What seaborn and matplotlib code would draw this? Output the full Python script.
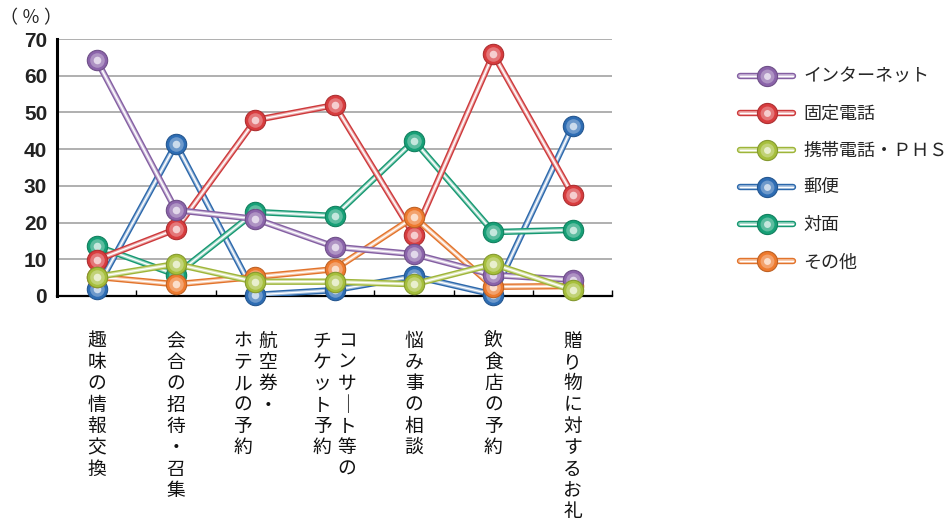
import numpy as np
import pandas as pd
import matplotlib
matplotlib.use("Agg")
import matplotlib.pyplot as plt
from matplotlib.lines import Line2D
from matplotlib.legend_handler import HandlerTuple
from matplotlib.colors import to_rgb
import seaborn as sns

# ---- data -----------------------------------------------------------------
categories = [
    "趣味の情報交換",
    "会合の招待・召集",
    "航空券・\nホテルの予約",
    "コンサート等の\nチケット予約",
    "悩み事の相談",
    "飲食店の予約",
    "贈り物に対するお礼",
]
series_names = ["インターネット", "固定電話", "携帯電話・ＰＨＳ", "郵便", "対面", "その他"]
internet = [64.3, 23.4, 21.0, 13.4, 11.4, 5.7, 4.4]
landline = [9.8, 18.2, 47.9, 52.0, 16.6, 65.9, 27.5]
mobile_phs = [5.2, 8.7, 3.9, 3.9, 3.2, 8.7, 1.6]
post = [1.9, 41.4, 0.3, 1.6, 5.4, 0.4, 46.3]
face_to_face = [13.6, 5.8, 22.9, 21.8, 42.3, 17.4, 18.0]
other = [5.2, 3.2, 5.2, 7.3, 21.5, 2.5, 2.7]
y_ticks = [0, 10, 20, 30, 40, 50, 60, 70]

values = [internet, landline, mobile_phs, post, face_to_face, other]
colors = ["#8b64aa", "#d83c3e", "#a6bf3c", "#2e6db4", "#17a077", "#ee7a2e"]
draw_order = [3, 4, 1, 5, 0, 2]  # stacking of the series, bottom to top

rows = []
for name, vals in zip(series_names, values):
    for i, v in enumerate(vals):
        rows.append({"series": name, "pos": i, "value": v})
df = pd.DataFrame(rows)

JP = "Noto Sans CJK JP"


def tint(c, f):
    r = np.array(to_rgb(c))
    return tuple(r + (1 - r) * f)


def shade(c, f):
    r = np.array(to_rgb(c))
    return tuple(r * (1 - f))


# ---- figure ---------------------------------------------------------------
sns.set_theme(style="white")
plt.rcParams["font.family"] = [JP, "DejaVu Sans"]

fig = plt.figure(figsize=(9.48, 5.18), dpi=100)
ax = fig.add_axes([0.060, 0.4286, 0.586, 0.4961])

for k in draw_order:
    name, c = series_names[k], colors[k]
    sub = df[df["series"] == name]
    z = 3 + draw_order.index(k)
    sns.lineplot(data=sub, x="pos", y="value", color=shade(c, 0.05), lw=4.6,
                 zorder=z, ax=ax, legend=False)
    sns.lineplot(data=sub, x="pos", y="value", color=tint(c, 0.55), lw=2.6,
                 zorder=z + 0.1, ax=ax, legend=False)
    sns.lineplot(data=sub, x="pos", y="value", color="white", lw=1.0,
                 zorder=z + 0.2, ax=ax, legend=False)
    sns.scatterplot(data=sub, x="pos", y="value", color=c, s=215,
                    edgecolor=shade(c, 0.2), linewidth=0.8, zorder=z + 0.3,
                    ax=ax, legend=False, clip_on=False)
    sns.scatterplot(data=sub, x="pos", y="value", color=tint(c, 0.3), s=110,
                    linewidth=0, zorder=z + 0.4, ax=ax, legend=False, clip_on=False)
    sns.scatterplot(data=sub, x="pos", y="value", color=tint(c, 0.75), s=30,
                    linewidth=0, zorder=z + 0.5, ax=ax, legend=False, clip_on=False)

# ---- axes -----------------------------------------------------------------
ax.set_xlim(-0.5, len(categories) - 0.5)
ax.set_ylim(0, 70)
ax.set_yticks(y_ticks)
ax.set_yticklabels([str(t) for t in y_ticks], fontfamily="Liberation Sans",
                   fontweight="bold", fontsize=15, color="#222222")
ax.tick_params(axis="y", length=0, pad=7)
ax.grid(axis="y", color="#9a9a9a", lw=1.1)
ax.set_axisbelow(True)
ax.set_xticks([])
ax.set_xticks(np.arange(len(categories)) + 0.5, minor=True)
ax.tick_params(axis="x", which="minor", direction="in", length=4.5,
               width=1.0, color="black", bottom=True)
ax.set_xlabel("")
ax.set_ylabel("")
for s in ["top", "right"]:
    ax.spines[s].set_visible(False)
ax.spines["left"].set_color("black")
ax.spines["left"].set_linewidth(2.2)
ax.spines["bottom"].set_color("black")
ax.spines["bottom"].set_linewidth(1.6)

fig.text(0.0, 0.965, "（ ％ ）", fontsize=13, ha="left", va="center",
         color="#222222")

# vertical category labels: first line is the rightmost column
col_gap = 0.315
for i, lab in enumerate(categories):
    cols = lab.split("\n")
    n = len(cols)
    for j, col in enumerate(cols):
        x = i + (n - 1) / 2 * col_gap - j * col_gap
        vert = "\n".join("｜" if ch == "ー" else ch for ch in col)
        ax.text(x, -0.135, vert, transform=ax.get_xaxis_transform(),
                ha="center", va="top", fontsize=13.5, linespacing=1.02,
                color="#111111")

# ---- legend ---------------------------------------------------------------
handles = []
for c in colors:
    handles.append((
        Line2D([], [], color=shade(c, 0.05), lw=4.6),
        Line2D([], [], color=tint(c, 0.55), lw=2.6),
        Line2D([], [], color="white", lw=1.0),
        Line2D([], [], ls="none", marker="o", ms=14.5, mfc=c, mec=shade(c, 0.2), mew=0.8),
        Line2D([], [], ls="none", marker="o", ms=10, mfc=tint(c, 0.3), mew=0),
        Line2D([], [], ls="none", marker="o", ms=5, mfc=tint(c, 0.75), mew=0),
    ))
fig.legend(handles, series_names, handler_map={tuple: HandlerTuple(ndivide=1, pad=0)},
           loc="upper left", bbox_to_anchor=(0.781, 0.869), frameon=False,
           fontsize=13, handlelength=2.9, handletextpad=0.6, labelspacing=1.06,
           borderpad=0, borderaxespad=0)

fig.savefig("out.png", dpi=100, facecolor="white")
